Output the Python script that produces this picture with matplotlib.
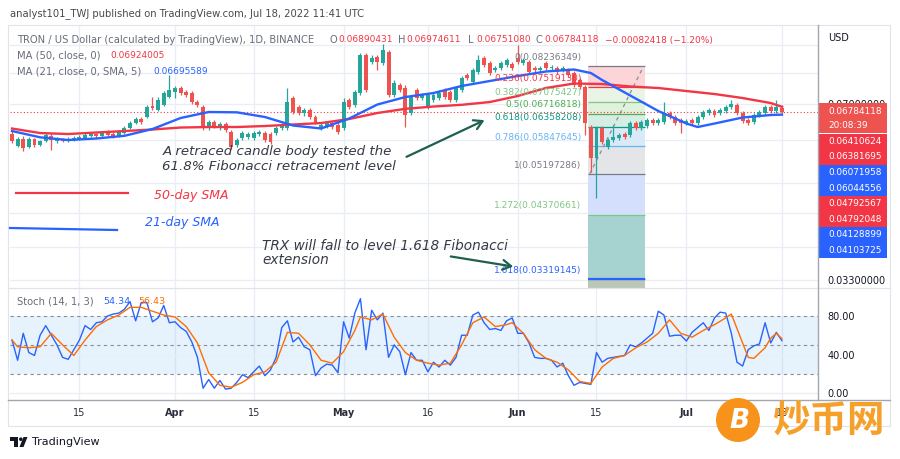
import numpy as np
import pandas as pd
import matplotlib
matplotlib.use("Agg")
import matplotlib.pyplot as plt
from matplotlib.patches import Rectangle, Circle, Polygon, FancyArrowPatch
from matplotlib.lines import Line2D
from matplotlib.ticker import NullLocator, NullFormatter
from matplotlib.transforms import offset_copy

plt.rcParams["font.family"] = ["DejaVu Sans"]

W, H = 900, 459

# TRX/USD daily candles, 3 Mar .. 18 Jul 2022
dates = pd.date_range("2022-03-03", "2022-07-18", freq="D")

opens = [
    .06164, .05857, .06034, .05832, .06034, .05882, .05982, .06112, .05982, .06034,
    .05982, .06008, .06034, .06060, .06112, .06164, .06112, .06190, .06164, .06112,
    .06190, .06324, .06460, .06572, .06628, .06946, .06829, .06976, .07218, .07374,
    .07501, .07374, .07342, .07065, .06917, .06324, .06488, .06324, .06433, .06217,
    .05882, .06060, .06086, .06060, .06164, .06190, .06164, .06190, .06324, .06324,
    .07187, .06917, .06742, .06829, .06628, .06324, .06378, .06460, .06405, .06324,
    .07126, .06976, .07342, .08635, .08380, .08562, .08345, .08746, .07280, .07598,
    .07501, .06742, .07437, .07187, .06917, .07126, .07187, .07437, .07374, .07126,
    .07437, .07929, .07695, .08031, .08525, .08345, .08100, .08169, .08274, .08309,
    .08525, .08345, .08380, .08169, .08100, .08345, .08169, .08169, .08100, .08100,
    .07997, .07761, .07533, .06351, .05564, .06324, .05832, .06008, .06060, .06164,
    .06138, .06460, .06324, .06378, .06543, .06460, .06488, .06742, .06628, .06543,
    .06460, .06543, .06460, .06628, .06742, .06800, .06742, .06800, .06917, .06976,
    .06742, .06543, .06488, .06685, .06742, .06917, .06800, .06890431,
]
closes = [
    .05982, .06034, .05807, .06034, .05882, .05982, .06138, .06008, .06034, .05982,
    .06034, .06060, .06086, .06138, .06164, .06112, .06190, .06138, .06112, .06217,
    .06324, .06460, .06572, .06488, .06917, .06887, .07126, .07342, .07437, .07501,
    .07342, .07280, .07065, .06976, .06324, .06488, .06378, .06433, .06270, .05832,
    .06008, .06190, .06164, .06190, .06217, .06008, .05957, .06324, .06405, .07065,
    .06771, .06742, .06829, .06628, .06488, .06405, .06460, .06351, .06217, .07065,
    .06917, .07374, .08635, .07437, .08525, .08380, .08821, .07280, .07663, .07437,
    .06685, .07218, .07187, .07280, .07280, .07280, .07342, .07218, .07126, .07501,
    .07828, .07828, .08100, .08452, .08274, .07997, .08169, .08345, .08452, .08169,
    .08380, .08452, .08031, .08100, .08169, .08169, .08204, .08031, .08169, .07929,
    .07598, .07533, .06460, .05564, .06324, .05957, .06008, .06086, .06138, .06086,
    .06460, .06324, .06488, .06543, .06460, .06543, .06742, .06628, .06460, .06460,
    .06515, .06460, .06628, .06771, .06829, .06685, .06829, .06917, .07005, .06742,
    .06515, .06460, .06685, .06771, .06917, .06800, .06917, .06784118,
]
highs = [
    .06243, .06086, .06112, .06086, .06060, .06008, .06190, .06190, .06086, .06060,
    .06086, .06112, .06138, .06190, .06217, .06190, .06243, .06270, .06217, .06270,
    .06378, .06515, .06628, .06628, .06976, .07218, .07218, .07405, .07929, .07566,
    .07566, .07437, .07405, .07126, .06976, .06543, .06543, .06488, .06488, .06270,
    .06060, .06243, .06217, .06243, .06270, .06243, .06217, .06378, .06460, .07501,
    .07249, .06976, .06887, .06887, .06685, .06460, .06515, .06515, .06488, .07187,
    .07187, .07437, .08709, .08709, .08635, .08635, .09049, .08821, .07761, .07663,
    .07598, .07280, .07501, .07342, .07342, .07342, .07437, .07501, .07437, .07566,
    .07895, .07997, .08169, .08635, .08598, .08416, .08239, .08416, .08525, .08380,
    .09011, .08525, .08452, .08239, .08239, .08416, .08274, .08239, .08239, .08169,
    .08066, .07828, .07598, .06405, .06378, .06378, .06060, .06405, .06190, .06217,
    .06515, .06515, .06543, .06600, .06600, .06600, .07065, .06800, .06685, .06600,
    .06572, .06600, .06685, .06829, .06887, .06858, .06887, .06976, .07126, .07035,
    .06800, .06600, .06742, .06829, .06976, .06976, .07126, .06974611,
]
lows = [
    .05932, .05832, .05732, .05807, .05832, .05857, .05957, .05757, .05932, .05957,
    .05957, .05982, .06008, .06034, .06086, .06060, .06086, .06112, .06060, .06086,
    .06164, .06297, .06433, .06433, .06600, .06829, .06800, .06946, .07187, .07187,
    .07280, .07218, .07005, .06917, .06270, .06270, .06324, .06270, .06217, .05782,
    .05832, .06008, .06034, .06008, .06112, .05957, .05907, .06138, .06270, .06270,
    .06714, .06685, .06657, .06572, .06433, .06270, .06324, .06297, .06164, .06270,
    .06858, .06917, .07280, .07374, .08309, .08100, .08274, .07218, .07218, .07374,
    .06351, .06685, .07126, .07126, .06858, .07065, .07126, .07156, .07065, .07065,
    .07374, .07761, .07630, .07963, .08204, .07929, .08031, .08100, .08204, .08100,
    .08309, .08274, .07963, .08031, .08031, .08100, .08100, .07963, .08031, .07862,
    .07533, .07469, .06138, .05241, .04692, .05907, .05782, .05957, .06008, .06034,
    .06086, .06270, .06270, .06324, .06405, .06405, .06433, .06572, .06405, .06190,
    .06405, .06405, .06405, .06572, .06685, .06628, .06685, .06742, .06858, .06685,
    .06460, .06405, .06433, .06628, .06685, .06742, .06742, .06751080,
]

# moving averages read at selected days (day 0 = 3 Mar)
ma50_day = [0, 5, 10, 15, 20, 25, 30, 35, 40, 45, 50, 55, 60, 65, 70, 75, 80,
            85, 90, 95, 100, 105, 110, 115, 120, 125, 130, 135, 137]
ma50 = [.06310, .06190, .06164, .06204, .06243, .06284, .06337, .06351, .06351,
        .06378, .06419, .06460, .06572, .06742, .06864, .06931, .06982, .07065,
        .07249, .07501, .07646, .07630, .07550, .07501, .07405, .07311, .07187,
        .07035, .06924005]
ma21_day = [0, 5, 10, 15, 20, 25, 30, 35, 40, 45, 50, 55, 60, 65, 70, 75, 80,
            85, 90, 95, 100, 103, 105, 110, 115, 120, 122, 125, 130, 135, 137]
ma21 = [.06243, .06078, .06008, .06047, .06117, .06297, .06600, .06771, .06762,
        .06628, .06392, .06311, .06586, .06990, .07218, .07342, .07566, .07728,
        .07895, .08048, .08117, .07997, .07761, .07265, .06800, .06447, .06351,
        .06446, .06614, .06685, .06695589]

# fibonacci retracement drawing
fib_ratio = ["0", "0.236", "0.382", "0.5", "0.618", "0.786", "1", "1.272", "1.618"]
fib_price = [0.08236349, 0.07519130, 0.07075427, 0.06716818, 0.06358208,
             0.05847645, 0.05197286, 0.04370661, 0.03319145]
fib_color = ["#787b86", "#f23645", "#81c784", "#4caf50", "#089981",
             "#64b5f6", "#787b86", "#81c784", "#2962ff"]
fib_fill = ["#fbd5d7", "#e9f4e6", "#e0f1dc", "#d5ede4", "#d8eaf7",
            "#e4e5e8", "#d3dffd", "#a6d3cf", "#bac6b8"]

# stochastic (14, 1, 3)
stoch_k = [55, 34, 62, 42, 39, 60, 70, 60, 50, 37, 35, 45, 55, 70, 66, 73, 74, 80, 82, 83,
           87, 95, 75, 94, 94, 74, 78, 91, 73, 74, 68, 64, 53, 37, 5, 14, 5, 13, 4, 5,
           11, 19, 16, 22, 28, 18, 24, 37, 68, 75, 53, 58, 48, 45, 18, 26, 30, 29, 21, 74,
           57, 83, 98, 45, 86, 76, 83, 37, 50, 43, 19, 42, 34, 34, 22, 32, 27, 34, 29,
           37, 60, 60, 81, 84, 73, 66, 67, 65, 75, 78, 62, 62, 52, 37, 36, 36, 34, 27, 31,
           18, 8, 11, 10, 9, 42, 32, 36, 37, 38, 39, 50, 48, 52, 57, 62, 85, 81, 59,
           60, 60, 54, 63, 68, 73, 65, 78, 84, 83, 62, 32, 28, 45, 49, 51, 73, 52, 63, 54.34]
stoch_d_day = [0, 1, 3, 5, 7, 9, 11, 13, 15, 17, 19, 21, 23, 25, 27, 29, 31, 33, 35, 37,
               39, 41, 43, 45, 47, 49, 51, 53, 55, 57, 59, 61, 62, 64, 66, 68, 70, 72, 74, 76,
               78, 80, 82, 84, 86, 88, 89, 91, 93, 95, 97, 99, 101, 103, 105, 107, 109, 111,
               113, 115, 117, 119, 121, 123, 125, 127, 128, 130, 131, 132, 134, 135, 136, 137]
stoch_d = [55, 48, 47, 48, 62, 50, 39, 55, 69, 76, 81, 89, 89, 85, 81, 79, 69, 52, 21, 8,
           6, 11, 19, 22, 32, 63, 62, 50, 34, 31, 43, 65, 79, 76, 82, 58, 42, 34, 31, 29,
           31, 50, 73, 79, 69, 71, 73, 62, 45, 36, 32, 24, 12, 10, 27, 36, 39, 47, 53, 62,
           76, 62, 58, 65, 71, 78, 82, 52, 37, 36, 47, 57, 62, 56.43]

tick_dates = ["2022-03-15", "2022-04-01", "2022-04-15", "2022-05-01", "2022-05-16",
              "2022-06-01", "2022-06-15", "2022-07-01", "2022-07-18"]
tick_labels = ["15", "Apr", "15", "May", "16", "Jun", "15", "Jul", "18"]
price_ticks = [0.033, 0.07]
price_grid = [0.033, 0.038, 0.044, 0.05, 0.06, 0.07, 0.08, 0.09]

price_tags = ["0.06410624", "0.06381695", "0.06071958", "0.06044556",
              "0.04792567", "0.04792048", "0.04128899", "0.04103725"]
price_tag_colors = ["#f23645", "#f23645", "#2962ff", "#2962ff",
                    "#f23645", "#f23645", "#2962ff", "#2962ff"]
change_text = "\u22120.00082418 (\u22121.20%)"

GREEN, RED, BLUE, ORANGE = "#26a69a", "#ef5350", "#2962ff", "#ff6d00"
MARED = "#f23645"
GRID = "#e9eef6"
TXT = "#131722"
GRAY = "#6a6d78"

fig = plt.figure(figsize=(W / 100, H / 100), dpi=100)
fig.patch.set_facecolor("white")
T = fig.dpi_scale_trans


def pt(x, y):
    return x / 100.0, (H - y) / 100.0


def ftext(x, y, s, **kw):
    kw.setdefault("va", "center")
    fig.text(x / W, 1 - y / H, s, **kw)


ax = fig.add_axes([10 / W, 1 - 288 / H, 808 / W, 263 / H])
ax2 = fig.add_axes([10 / W, 1 - 400 / H, 808 / W, 112 / H])

x = np.arange(len(dates))
tick_pos = [dates.get_loc(pd.Timestamp(d)) for d in tick_dates]
xlim = (-2 / 5.62, 806 / 5.62)

for a in (ax, ax2):
    a.set_xlim(*xlim)
    for s in a.spines.values():
        s.set_visible(False)
    for d in tick_pos:
        a.axvline(d, color=GRID, lw=0.9, zorder=0)

# --- price panel
ax.set_yscale("log")
ax.set_ylim(0.03196, 0.09814)
for p in price_grid:
    ax.axhline(p, color=GRID, lw=0.9, zorder=0)

o, h, l, c = map(np.array, (opens, highs, lows, closes))
col = np.where(c >= o, GREEN, RED)

# fibonacci zones behind the candles
fx0, fx1 = 102.5, 112.6
for k in range(len(fib_price) - 1):
    ax.fill_between([fx0, fx1], fib_price[k + 1], fib_price[k],
                    color=fib_fill[k], lw=0, zorder=1)
ax.fill_between([fx0, fx1], 0.03196, fib_price[-1], color=fib_fill[-1], lw=0, zorder=1)
ax.hlines(fib_price, fx0, fx1, colors=fib_color, lw=0.9, zorder=1.5)
ax.hlines(fib_price[-1], fx0, fx1, colors=fib_color[-1], lw=1.6, zorder=1.6)
ax.plot([102.8, 112.4], [fib_price[6], fib_price[0]], color="#8a8d96",
        lw=0.9, ls=(0, (3, 3)), zorder=1.7)
lab_tr = offset_copy(ax.transData, fig=fig, x=0, y=9, units="dots")
for r, p, cc in zip(fib_ratio, fib_price, fib_color):
    ax.text(101.3, p, f"{r}({p:.8f})", transform=lab_tr, ha="right", va="center",
            fontsize=6.5, color=cc, zorder=6)

ax.vlines(x, l, h, colors=col, lw=0.9, zorder=3)
ax.bar(x, np.abs(c - o), bottom=np.minimum(o, c), width=0.7, color=col, lw=0, zorder=3.5)

ax.plot(ma50_day, ma50, color=MARED, lw=1.7, zorder=4)
ax.plot(ma21_day, ma21, color=BLUE, lw=1.7, zorder=4.1)
ax.axhline(closes[-1], color=MARED, lw=0.8, ls=(0, (1, 2)), zorder=2)

ax.tick_params(axis="x", length=0, labelbottom=False)
ax.yaxis.tick_right()
ax.set_yticks(price_ticks)
ax.set_yticklabels([f"{p:.8f}" for p in price_ticks])
ax.yaxis.set_minor_locator(NullLocator())
ax.yaxis.set_minor_formatter(NullFormatter())
ax.tick_params(axis="y", length=0, pad=7, labelsize=7, labelcolor=TXT)

# --- stochastic panel
ax2.set_ylim(-7.27, 109.1)
ax2.axhspan(20, 80, color="#2196f3", alpha=0.11, lw=0, zorder=0)
for v in (0, 40):
    ax2.axhline(v, color=GRID, lw=0.9, zorder=0.5)
for v in (80, 50, 20):
    ax2.axhline(v, color="#8a8d96", lw=0.8, ls=(0, (3, 3)), zorder=1)
ax2.plot(x, stoch_k, color=BLUE, lw=1.0, zorder=3)
ax2.plot(stoch_d_day, stoch_d, color=ORANGE, lw=1.0, zorder=3.1)
ax2.set_xticks(tick_pos)
ax2.set_xticklabels(tick_labels)
for t in ax2.get_xticklabels():
    if t.get_text().isalpha():
        t.set_fontweight("bold")
ax2.tick_params(axis="x", length=0, pad=6, labelsize=7, labelcolor="#2a2e39")
ax2.yaxis.tick_right()
ax2.set_yticks([0, 40, 80])
ax2.set_yticklabels(["0.00", "40.00", "80.00"])
ax2.tick_params(axis="y", length=0, pad=7, labelsize=7, labelcolor=TXT)

# frame lines
fig.add_artist(Rectangle(pt(8, 426), 8.82, 4.01, transform=T, fill=False,
                         ec="#e0e3eb", lw=0.8))
fig.add_artist(Line2D([0.08, 8.9], [(H - 288) / 100] * 2, transform=T, color="#e0e3eb", lw=0.9))
fig.add_artist(Line2D([0.08, 8.9], [(H - 400) / 100] * 2, transform=T, color="#a3a6af", lw=1.0))
fig.add_artist(Line2D([8.18, 8.18], [(H - 400) / 100, (H - 25) / 100], transform=T,
                      color="#a3a6af", lw=1.0))
ftext(828, 38, "USD", fontsize=7, color=TXT)

# price tags on the right scale
fig.add_artist(Rectangle(pt(818, 133), 0.69, 0.30, transform=T, color="#ef5350", lw=0))
ftext(828, 111, f"{closes[-1]:.8f}", fontsize=6.4, color="white")
ftext(828, 125, "20:08:39", fontsize=6.4, color="white")
ty = 133.5
for s, cc in zip(price_tags, price_tag_colors):
    fig.add_artist(Rectangle(pt(818, ty + 15.6), 0.69, 0.156, transform=T, color=cc, lw=0))
    ftext(828, ty + 7.8, s, fontsize=6.4, color="white")
    ty += 15.6

# header and legends
ftext(10, 14, "analyst101_TWJ published on TradingView.com, Jul 18, 2022 11:41 UTC",
      fontsize=7.2, color="#4a4a4a")
ftext(17, 40, "TRON / US Dollar (calculated by TradingView), 1D, BINANCE",
      fontsize=7.2, color=GRAY)
for lx, letter, val in [(330, "O", opens[-1]), (398, "H", highs[-1]),
                        (468, "L", lows[-1]), (536, "C", closes[-1])]:
    ftext(lx, 40, letter, fontsize=7.1, color=GRAY)
    ftext(lx + 8, 40, f"{val:.8f}", fontsize=6.5, color=MARED)
ftext(605, 40, change_text, fontsize=6.5, color=MARED)
ftext(17, 56, "MA (50, close, 0)", fontsize=7.2, color=GRAY)
ftext(110, 56, f"{ma50[-1]:.8f}", fontsize=6.5, color=MARED)
ftext(17, 72, "MA (21, close, 0, SMA, 5)", fontsize=7.2, color=GRAY)
ftext(153, 72, f"{ma21[-1]:.8f}", fontsize=6.5, color=BLUE)
ftext(17, 302, "Stoch (14, 1, 3)", fontsize=7.2, color=GRAY)
ftext(103, 302, f"{stoch_k[-1]:.2f}", fontsize=6.8, color=BLUE)
ftext(138, 302, f"{stoch_d[-1]:.2f}", fontsize=6.8, color=ORANGE)

# analyst notes
NOTE = "#363a45"
ftext(163, 152, "A retraced candle body tested the", fontsize=9.6, style="italic", color=NOTE)
ftext(162, 167, "61.8% Fibonacci retracement level", fontsize=9.6, style="italic", color=NOTE)
ftext(154, 195, "50-day SMA", fontsize=9, style="italic", color=MARED)
ftext(145, 222, "21-day SMA", fontsize=9, style="italic", color=BLUE)
ftext(262, 246, "TRX will fall to level 1.618 Fibonacci", fontsize=9.8, style="italic",
      color=NOTE)
ftext(262, 260, "extension", fontsize=9.8, style="italic", color=NOTE)
fig.add_artist(Line2D([0.16, 1.28], [(H - 193) / 100] * 2, transform=T, color=MARED, lw=1.6))
fig.add_artist(Line2D([0.10, 1.17], [(H - 228) / 100, (H - 230) / 100], transform=T,
                      color=BLUE, lw=1.6))
for a0, a1 in [((404, 158), (487, 119)), ((448, 256), (516, 267))]:
    fig.add_artist(FancyArrowPatch(pt(*a0), pt(*a1), transform=T,
                                   arrowstyle="->,head_length=6,head_width=3.5",
                                   color="#1f5f4f", lw=1.6, mutation_scale=1))

# footer logo
fig.add_artist(Polygon([pt(10, 437), pt(18, 437), pt(18, 447), pt(14.5, 447),
                        pt(14.5, 440.5), pt(10, 440.5)], closed=True, transform=T,
                       color=TXT, lw=0))
fig.add_artist(Circle(pt(20.8, 439.2), 0.018, transform=T, color=TXT, lw=0))
fig.add_artist(Polygon([pt(19.5, 447), pt(23.5, 437), pt(27.5, 437), pt(23.5, 447)],
                       closed=True, transform=T, color=TXT, lw=0))
ftext(32, 442, "TradingView", fontsize=8, color=TXT)

# watermark
fig.add_artist(Circle(pt(738, 420), 0.22, transform=T, color="#f7931a", lw=0, zorder=10))
ftext(740, 421, "B", fontsize=19, fontweight="heavy", style="italic", color="white",
      ha="center", zorder=11)
ftext(828, 420, "炒币网", fontsize=27, fontweight="bold", color="#f6a02c", ha="center",
      family=["Noto Sans CJK SC", "DejaVu Sans"], zorder=11)

fig.savefig("out.png", dpi=100, facecolor="white")
